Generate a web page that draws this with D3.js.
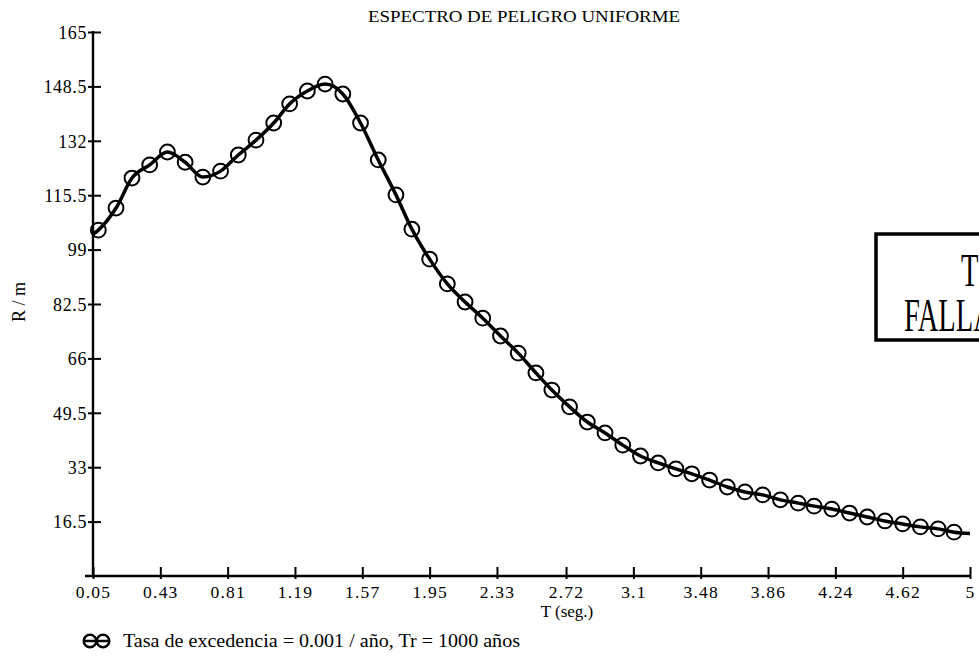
<!DOCTYPE html>
<html>
<head>
<meta charset="utf-8">
<script src="https://cdn.jsdelivr.net/npm/d3@7"></script>
<style>
  body { margin: 0; background: #fff; }
  svg { display: block; }
  text { font-family: "Liberation Serif", "DejaVu Serif", serif; fill: #000; }
</style>
</head>
<body>
<div id="chart"></div>
<script>
  // uniform hazard spectrum, Tr = 1000 years
  const periods = [0.08, 0.18, 0.27, 0.37, 0.47, 0.57, 0.67, 0.77, 0.87, 0.97,
    1.07, 1.16, 1.26, 1.36, 1.46, 1.56, 1.66, 1.76, 1.85, 1.95,
    2.05, 2.15, 2.25, 2.35, 2.45, 2.55, 2.64, 2.74, 2.84, 2.94,
    3.04, 3.14, 3.24, 3.34, 3.43, 3.53, 3.63, 3.73, 3.83, 3.93,
    4.03, 4.12, 4.22, 4.32, 4.42, 4.52, 4.62, 4.72, 4.82, 4.91];
  const ratios = [104.9, 111.6, 120.7, 124.7, 128.6, 125.5, 121.0, 122.8, 127.7, 132.2,
    137.4, 143.2, 147.1, 149.2, 146.2, 137.4, 126.2, 115.6, 105.2, 96.1,
    88.6, 83.1, 78.2, 72.8, 67.6, 61.6, 56.4, 51.3, 46.7, 43.4,
    39.7, 36.4, 34.3, 32.5, 31.0, 29.1, 27.0, 25.5, 24.6, 23.1,
    22.1, 21.2, 20.3, 19.1, 17.9, 16.7, 15.8, 14.9, 14.3, 13.3];
  const curveStart = [0.05, 103.6],
    curveEnd = [5.0, 12.9];

  const xTicks = [0.05, 0.43, 0.81, 1.19, 1.57, 1.95, 2.33, 2.72, 3.1, 3.48, 3.86, 4.24, 4.62, 5];
  const yTicks = [16.5, 33, 49.5, 66, 82.5, 99, 115.5, 132, 148.5, 165];

  const titleText = "ESPECTRO DE PELIGRO UNIFORME",
    xLabel = "T (seg.)",
    yLabel = "R / m",
    legendText = "Tasa de excedencia = 0.001 / año, Tr = 1000 años",
    stampLines = ["TESIS CON", "FALLA DE ORIGEN"];

  const width = 979, height = 670,
    plotLeft = 93, plotRight = 970, plotTop = 32, plotBottom = 576;

  const svg = d3.select("#chart").append("svg")
      .attr("width", width)
      .attr("height", height);

  const x = d3.scaleLinear().domain([0.05, 5]).range([plotLeft, plotRight]);
  const y = d3.scaleLinear().domain([0, 165]).range([plotBottom, plotTop]);

  //title
  svg.append("text")
      .attr("x", 368)
      .attr("y", 22)
      .attr("textLength", 312)
      .attr("lengthAdjust", "spacingAndGlyphs")
      .style("font-size", "17px")
      .text(titleText);

  //y axis, ticks cross the line
  const yAxis = svg.append("g")
      .attr("transform", "translate(" + plotLeft + ",0)")
      .call(d3.axisLeft(y).tickValues(yTicks).tickFormat((d) => d).tickSizeOuter(0));
  yAxis.select(".domain").attr("d", "M0," + (plotBottom + 1) + "V" + (plotTop - 1)).attr("stroke-width", 2.4);
  yAxis.selectAll(".tick line").attr("x1", -5).attr("x2", 8).attr("stroke-width", 2);
  yAxis.selectAll(".tick text")
      .attr("x", -6)
      .attr("dy", "0.35em")
      .style("font-family", "Liberation Serif")
      .style("font-size", "18px")
      .style("letter-spacing", "0.6px");

  //x axis
  const xAxis = svg.append("g")
      .attr("transform", "translate(0," + plotBottom + ")")
      .call(d3.axisBottom(x).tickValues(xTicks).tickFormat((d) => d).tickSizeOuter(0));
  xAxis.select(".domain").attr("d", "M" + (plotLeft - 8) + ",0H" + plotRight).attr("stroke-width", 2.4);
  xAxis.selectAll(".tick line").attr("y1", -9).attr("y2", 3).attr("stroke-width", 2);
  xAxis.selectAll(".tick text")
      .attr("y", 10)
      .attr("dy", "0.71em")
      .style("font-family", "Liberation Serif")
      .style("font-size", "17.5px")
      .style("letter-spacing", "1.2px");

  //axis titles
  svg.append("text")
      .attr("x", 567)
      .attr("y", 617)
      .style("text-anchor", "middle")
      .style("font-size", "17px")
      .text(xLabel);

  svg.append("text")
      .attr("transform", "translate(25,302) rotate(-90)")
      .style("text-anchor", "middle")
      .style("font-size", "18px")
      .text(yLabel);

  //curve and markers
  const points = periods.map((t, i) => [t, ratios[i]]);
  const linePoints = [curveStart].concat(points, [curveEnd]);

  const line = d3.line()
      .x((d) => x(d[0]))
      .y((d) => y(d[1]))
      .curve(d3.curveMonotoneX);

  svg.append("path")
      .datum(linePoints)
      .attr("d", line)
      .attr("fill", "none")
      .attr("stroke", "#000")
      .attr("stroke-width", 3.5);

  svg.selectAll(".marker")
      .data(points)
      .enter().append("circle")
        .attr("class", "marker")
        .attr("cx", (d) => x(d[0]))
        .attr("cy", (d) => y(d[1]))
        .attr("r", 7.4)
        .attr("fill", "none")
        .attr("stroke", "#000")
        .attr("stroke-width", 2);

  //legend
  const legend = svg.append("g").attr("transform", "translate(0,641)");
  legend.append("line")
      .attr("x1", 83).attr("x2", 110)
      .attr("stroke", "#000").attr("stroke-width", 2.5);
  legend.selectAll("circle")
      .data([90, 103])
      .enter().append("circle")
        .attr("cx", (d) => d)
        .attr("r", 6.3)
        .attr("fill", "none")
        .attr("stroke", "#000")
        .attr("stroke-width", 2.5);
  legend.append("text")
      .attr("x", 123)
      .attr("y", 6)
      .attr("textLength", 397)
      .attr("lengthAdjust", "spacingAndGlyphs")
      .style("font-size", "18.5px")
      .text(legendText);

  //stamp cut by the right border, condensed lettering
  const stamp = svg.append("g");
  stamp.append("rect")
      .attr("x", 876).attr("y", 234)
      .attr("width", 200).attr("height", 106)
      .attr("fill", "none")
      .attr("stroke", "#000")
      .attr("stroke-width", 3.5);
  stamp.append("text")
      .attr("transform", "translate(961,286) scale(0.62,1)")
      .style("font-size", "46px")
      .text(stampLines[0]);
  stamp.append("text")
      .attr("transform", "translate(904,331) scale(0.62,1)")
      .style("font-size", "46px")
      .text(stampLines[1]);
</script>
</body>
</html>
